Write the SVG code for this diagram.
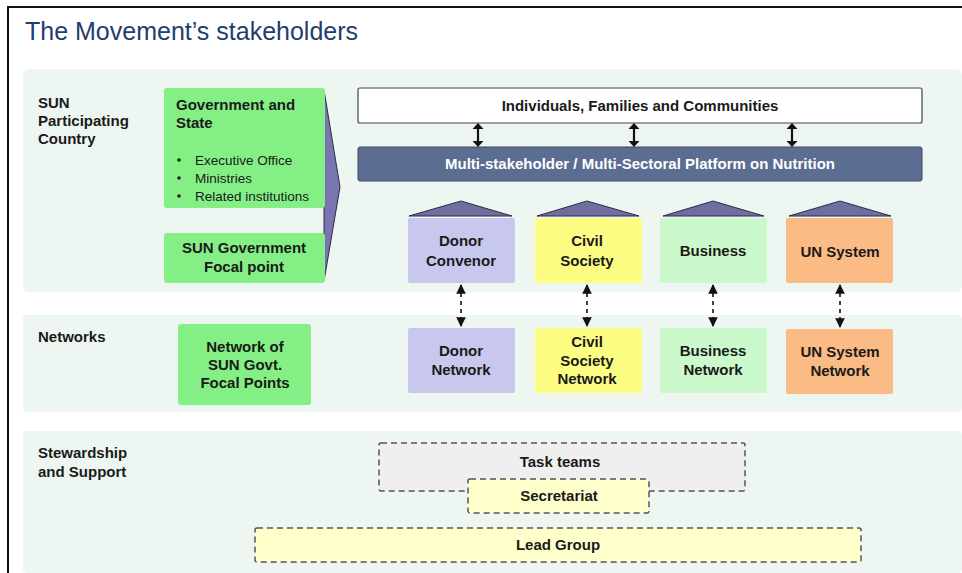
<svg xmlns="http://www.w3.org/2000/svg" width="962" height="573" viewBox="0 0 962 573">
  <defs>
    <marker id="ahs" viewBox="0 0 10 10" refX="9" refY="5" markerWidth="6" markerHeight="6" orient="auto-start-reverse">
      <path d="M0,0 L10,5 L0,10 z" fill="#111"/>
    </marker>
    <!-- two-headed solid arrow, drawn about its own centre -->
    <g id="dbl">
      <line x1="0" y1="-7" x2="0" y2="7" stroke="#111" stroke-width="2.2"/>
      <polygon points="-5.5,-6 0,-12 5.5,-6" fill="#111"/>
      <polygon points="-5.5,6 0,12 5.5,6" fill="#111"/>
    </g>
  </defs>
  <style>
    text { font-family: "Liberation Sans", Arial, sans-serif; fill: #1a1a1a; }
    .b { font-weight: bold; font-size: 15px; }
    .c { text-anchor: middle; }
    .lbl { font-weight: bold; font-size: 15px; }
    .bul { font-size: 13.5px; }
    .band { fill: #eef6f2; }
    .gov { fill: #84ef84; }
    .donor { fill: #c8c8ef; }
    .civil { fill: #fdfd84; }
    .biz { fill: #cbf9cb; }
    .un { fill: #fbbb85; }
    .roof { fill: #6f6f9f; stroke: #2a2a4a; stroke-width: 1; }
    .dash { stroke-dasharray: 6 4; stroke: #555; stroke-width: 1.5; }
    .dash-arrow { stroke: #111; stroke-width: 1.6; stroke-dasharray: 4 4; fill: none; }
  </style>

  <rect x="0" y="0" width="962" height="573" fill="#ffffff"/>
  <!-- frame -->
  <path d="M8,573 L8,7 L962,7" fill="none" stroke="#111" stroke-width="2"/>

  <text x="25" y="40" font-size="25" style="fill:#1f3d6e">The Movement’s stakeholders</text>

  <!-- bands -->
  <rect class="band" x="23" y="69" width="939" height="223" rx="6"/>
  <rect class="band" x="23" y="315" width="939" height="97" rx="4"/>
  <rect class="band" x="23" y="431" width="939" height="142" rx="4"/>

  <g id="label-country">
    <text class="lbl" x="38" y="108">SUN</text>
    <text class="lbl" x="38" y="126">Participating</text>
    <text class="lbl" x="38" y="144">Country</text>
  </g>
  <g id="label-networks"><text class="lbl" x="38" y="342">Networks</text></g>
  <g id="label-stewardship">
    <text class="lbl" x="38" y="458">Stewardship</text>
    <text class="lbl" x="38" y="477">and Support</text>
  </g>

  <!-- chevron joining government boxes to the platform -->
  <g id="chevron">
    <polygon points="324,90 340,187 324,281" fill="#7a74b0" stroke="#2a2a4a" stroke-width="1"/>
  </g>

  <g id="gov-state">
    <rect class="gov" x="164" y="88" width="161" height="120" rx="3"/>
    <text class="b" x="176" y="110">Government  and</text>
    <text class="b" x="176" y="128">State</text>
    <circle cx="179" cy="160" r="1.8" fill="#1a1a1a"/>
    <text class="bul" x="195" y="165">Executive Office</text>
    <circle cx="179" cy="178" r="1.8" fill="#1a1a1a"/>
    <text class="bul" x="195" y="183">Ministries</text>
    <circle cx="179" cy="196" r="1.8" fill="#1a1a1a"/>
    <text class="bul" x="195" y="201">Related institutions</text>
  </g>

  <g id="gov-focal">
    <rect class="gov" x="164" y="233" width="161" height="50" rx="3"/>
    <text class="b c" x="244" y="253">SUN Government</text>
    <text class="b c" x="244" y="272">Focal point</text>
  </g>

  <g id="communities">
    <rect x="358" y="88" width="564" height="35" rx="2" fill="#ffffff" stroke="#444" stroke-width="1.2"/>
    <text class="b c" x="640" y="111">Individuals, Families and Communities</text>
  </g>

  <g id="platform">
    <rect x="358" y="147" width="564" height="34" rx="2" fill="#5b6d91" stroke="#3a4866" stroke-width="1"/>
    <text class="b c" x="640" y="169" style="fill:#ffffff" font-size="14.5">Multi-stakeholder / Multi-Sectoral Platform on Nutrition</text>
  </g>

  <g id="donor-convenor">
    <polygon class="roof" points="409,216 461,201 512,216"/>
    <rect class="donor" x="408" y="218" width="107" height="65" rx="2"/>
    <text class="b c" x="461" y="246">Donor</text>
    <text class="b c" x="461" y="266">Convenor</text>
  </g>
  <g id="civil-society">
    <polygon class="roof" points="537,216 587,201 639,216"/>
    <rect class="civil" x="535" y="218" width="107" height="65" rx="2"/>
    <text class="b c" x="587" y="246">Civil</text>
    <text class="b c" x="587" y="266">Society</text>
  </g>
  <g id="business">
    <polygon class="roof" points="663,216 713,201 764,216"/>
    <rect class="biz" x="660" y="218" width="107" height="65" rx="2"/>
    <text class="b c" x="713" y="256">Business</text>
  </g>
  <g id="un-system">
    <polygon class="roof" points="789,216 840,201 891,216"/>
    <rect class="un" x="786" y="218" width="107" height="65" rx="2"/>
    <text class="b c" x="840" y="257">UN System</text>
  </g>

  <g id="network-focal-points">
    <rect class="gov" x="178" y="324" width="133" height="81" rx="3"/>
    <text class="b c" x="245" y="352">Network of</text>
    <text class="b c" x="245" y="370">SUN Govt.</text>
    <text class="b c" x="245" y="388">Focal Points</text>
  </g>
  <g id="donor-network">
    <rect class="donor" x="408" y="328" width="107" height="65" rx="2"/>
    <text class="b c" x="461" y="356">Donor</text>
    <text class="b c" x="461" y="375">Network</text>
  </g>
  <g id="civil-society-network">
    <rect class="civil" x="535" y="328" width="107" height="65" rx="2"/>
    <text class="b c" x="587" y="347">Civil</text>
    <text class="b c" x="587" y="366">Society</text>
    <text class="b c" x="587" y="384">Network</text>
  </g>
  <g id="business-network">
    <rect class="biz" x="660" y="328" width="107" height="65" rx="2"/>
    <text class="b c" x="713" y="356">Business</text>
    <text class="b c" x="713" y="375">Network</text>
  </g>
  <g id="un-system-network">
    <rect class="un" x="786" y="329" width="107" height="65" rx="2"/>
    <text class="b c" x="840" y="357">UN System</text>
    <text class="b c" x="840" y="376">Network</text>
  </g>

  <g id="task-teams">
    <rect x="379" y="443" width="366" height="48" rx="2" fill="#efefef" class="dash"/>
    <text class="b c" x="560" y="467">Task teams</text>
  </g>
  <g id="secretariat">
    <rect x="468" y="479" width="181" height="34" rx="2" fill="#ffffcc" class="dash"/>
    <text class="b c" x="559" y="501">Secretariat</text>
  </g>
  <g id="lead-group">
    <rect x="255" y="528" width="606" height="34" rx="2" fill="#ffffcc" class="dash"/>
    <text class="b c" x="558" y="550">Lead Group</text>
  </g>

  <g id="connectors">
    <use href="#dbl" x="478" y="135"/>
    <use href="#dbl" x="634" y="135"/>
    <use href="#dbl" x="792" y="135"/>
    <line class="dash-arrow" x1="461" y1="285" x2="461" y2="326" marker-start="url(#ahs)" marker-end="url(#ahs)"/>
    <line class="dash-arrow" x1="587" y1="285" x2="587" y2="326" marker-start="url(#ahs)" marker-end="url(#ahs)"/>
    <line class="dash-arrow" x1="713" y1="285" x2="713" y2="326" marker-start="url(#ahs)" marker-end="url(#ahs)"/>
    <line class="dash-arrow" x1="840" y1="285" x2="840" y2="327" marker-start="url(#ahs)" marker-end="url(#ahs)"/>
  </g>
</svg>
